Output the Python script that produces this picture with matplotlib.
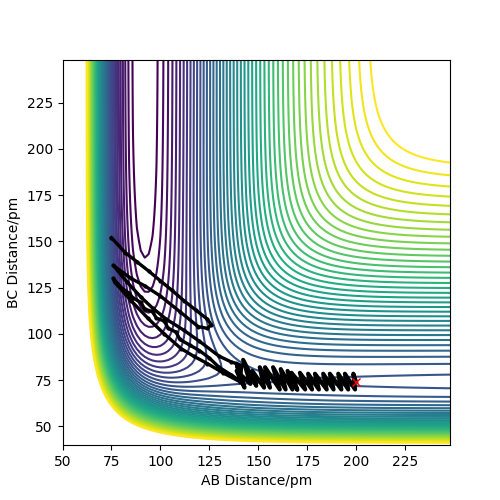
import numpy as np
import matplotlib
matplotlib.use("Agg")
import matplotlib.pyplot as plt

# Surface: the reference's grid cannot be read pixel by pixel, so it is computed
# from a LEPS model. These parameters are my estimates, fitted by eye.
AB_GRID = np.arange(50, 250, 2)
BC_GRID = np.arange(40, 250, 2)
D_E = [566.0, 432.0, 566.0]      # AB, BC, AC well depth
R_E = [91.7, 74.1, 91.7]
BETA = [0.0222, 0.0194, 0.0222]
SATO = [0.167, 0.165, 0.167]
LEVELS = np.arange(-553.8, -80, 10.4)

# trajectory
start_ab = 200
start_bc = 74
# H2 vibration on the way in
zig_ab = [200, 198.6, 199.5, 194.3, 196, 190.9, 192.5, 186.6, 188.5, 183.2, 185, 179, 181,
          175.5, 177.5, 171.3, 174, 167, 170, 165, 167.5, 161.5, 164, 157.6, 161, 153.5,
          156, 150.8, 153, 147, 149, 142.3, 146, 139, 143, 139, 141]
zig_bc = [74, 78.5, 70, 78.5, 70, 78.5, 70, 78.5, 70, 78.5, 70, 78.5, 70,
          78.5, 70, 79, 70, 79, 69.8, 80, 70, 81, 70, 82, 70, 82,
          71, 82, 71, 80, 72, 86, 73, 80, 71, 84, 74]
# bands towards the AB wall
band_ab = [141, 132, 124, 117, 110.7, 102, 93.7, 85, 76.6, 76,
           80, 84, 86, 90, 92, 96, 98, 102, 104, 108, 110, 115, 120, 125, 130, 136, 141,
           141.5, 136, 130, 120, 112, 103, 96, 90, 83, 76,
           85, 92, 100, 110, 119.3, 124, 126, 124, 118, 112, 106, 100, 94, 88, 82, 75]
band_bc = [74, 79, 84, 88, 92, 100, 108.4, 118, 128, 130,
           125, 122, 119.5, 117, 113.5, 112, 108.5, 107, 103, 101, 97, 94, 91, 87, 82, 78, 74.5,
           83, 85, 88, 96, 102, 108, 114, 120, 128, 137,
           130, 126, 120.5, 112, 104, 103, 105, 108, 113, 118, 123.5, 128.7, 134, 139, 144, 152]

X, Y = np.meshgrid(AB_GRID, BC_GRID)


def leps(rab, rbc):
    rac = rab + rbc
    q_sum = 0.0
    j_terms = []
    for r, d, r0, b, s in zip((rab, rbc, rac), D_E, R_E, BETA, SATO):
        e = np.exp(-b * (r - r0))
        q = d / 4 * ((3 + s) * e ** 2 - (2 + 6 * s) * e) / (1 + s)
        j = d / 4 * ((1 + 3 * s) * e ** 2 - (6 + 2 * s) * e) / (1 + s)
        q_sum = q_sum + q
        j_terms.append(j)
    ja, jb, jc = j_terms
    return q_sum - np.sqrt(ja**2 + jb**2 + jc**2 - ja*jb - jb*jc - ja*jc)


fig, ax = plt.subplots(figsize=(5, 5))
ax.contour(X, Y, leps(X, Y), levels=LEVELS)
ax.plot(zig_ab, zig_bc, color="k", lw=3.0)
ax.plot(band_ab, band_bc, color="k", lw=2.4, marker=".", ms=4)
ax.plot(start_ab, start_bc, "rx")
ax.set_xlabel("AB Distance/pm")
ax.set_ylabel("BC Distance/pm")
plt.savefig("out.png", dpi=100)
